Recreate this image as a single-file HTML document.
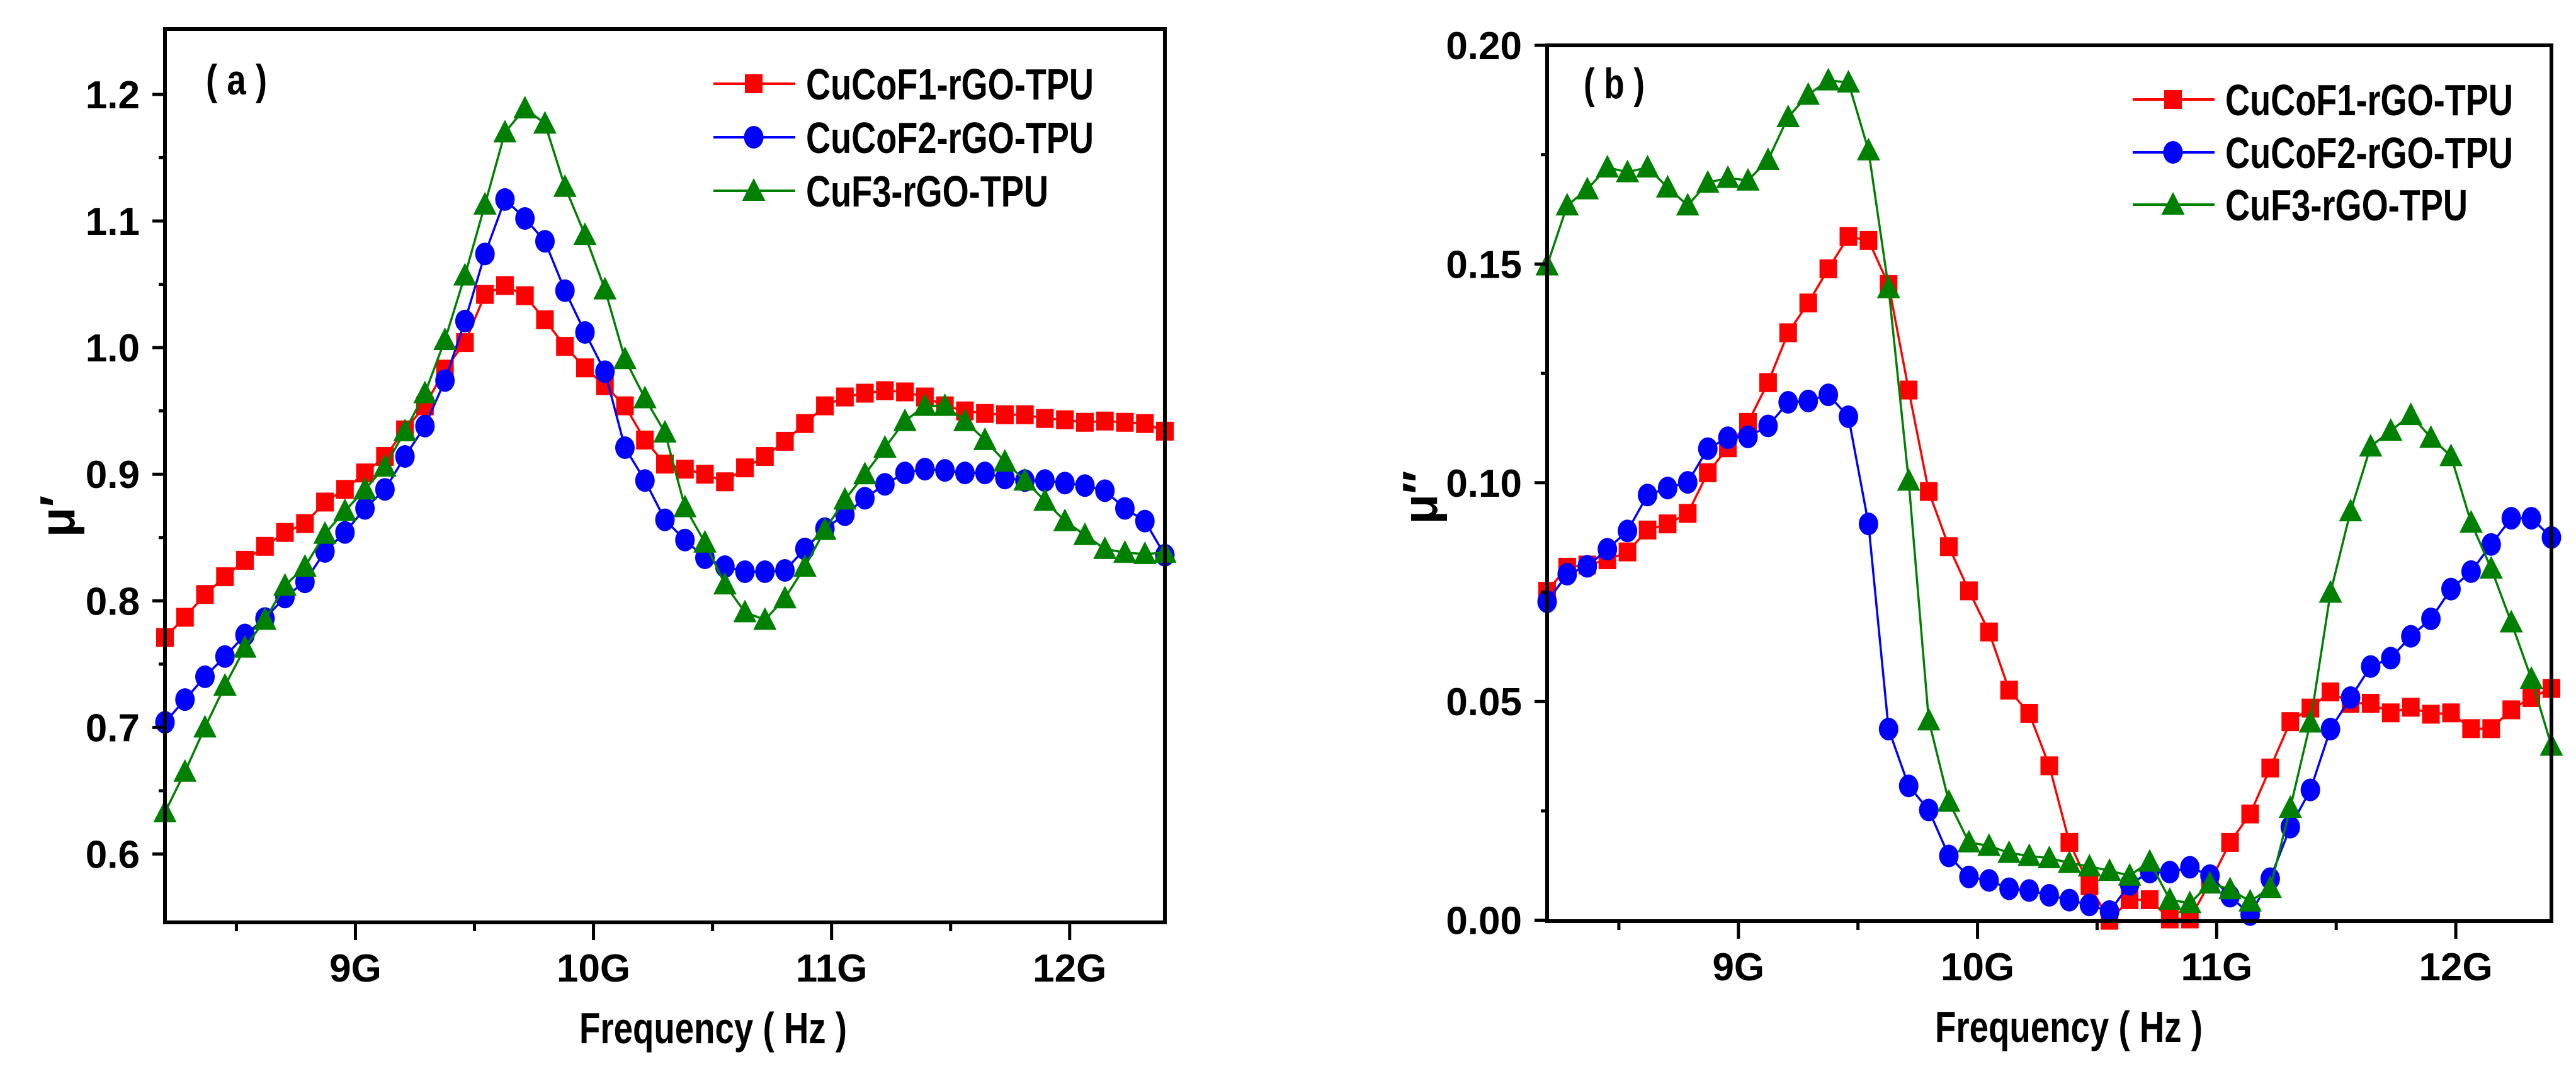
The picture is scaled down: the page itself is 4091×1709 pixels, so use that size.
<!DOCTYPE html>
<html><head><meta charset="utf-8"><style>
html,body{margin:0;padding:0;background:#fff;}
svg{display:block;}
text{font-family:"Liberation Sans Narrow","Liberation Sans",sans-serif;font-weight:bold;fill:#000;}
</style></head><body>
<svg id="chart" width="4091" height="1709" viewBox="0 0 4091 1709" xmlns="http://www.w3.org/2000/svg"></svg>
<script>
const freqStart = 8.2, freqStep = 0.084, pointCount = 51;
const xTicks = [9, 10, 11, 12];
const xTickLabels = ["9G", "10G", "11G", "12G"];
const seriesNames = ["CuCoF1-rGO-TPU", "CuCoF2-rGO-TPU", "CuF3-rGO-TPU"];
const yTicksA = [0.6, 0.7, 0.8, 0.9, 1.0, 1.1, 1.2];
const yTickLabelsA = ["0.6", "0.7", "0.8", "0.9", "1.0", "1.1", "1.2"];
const yTicksB = [0.0, 0.05, 0.10, 0.15, 0.20];
const yTickLabelsB = ["0.00", "0.05", "0.10", "0.15", "0.20"];
const aRed = [.771,.787,.805,.819,.832,.843,.854,.861,.878,.888,.901,.914,.935,.954,.983,1.004,1.042,1.049,1.041,1.022,1.001,.984,.970,.954,.927,.908,.904,.900,.894,.905,.914,.926,.940,.954,.961,.964,.966,.965,.961,.954,.950,.948,.947,.947,.944,.943,.941,.942,.941,.940,.934];
const aBlue = [.704,.722,.740,.756,.773,.786,.803,.815,.839,.854,.873,.888,.914,.938,.974,1.021,1.074,1.117,1.102,1.084,1.045,1.012,.981,.921,.895,.864,.848,.834,.827,.823,.823,.824,.841,.857,.868,.881,.892,.901,.904,.903,.901,.901,.897,.895,.895,.893,.891,.887,.873,.863,.836];
const aGreen = [.633,.665,.700,.733,.763,.785,.812,.827,.853,.871,.888,.906,.934,.964,1.006,1.057,1.113,1.170,1.189,1.177,1.127,1.089,1.046,.991,.960,.933,.874,.846,.813,.791,.785,.802,.827,.856,.880,.900,.921,.942,.954,.954,.942,.927,.910,.895,.879,.863,.852,.841,.838,.837,.838];
const bRed = [.0752,.0807,.0812,.0824,.0842,.0892,.0906,.0930,.1023,.1080,.1138,.1229,.1343,.1411,.1489,.1563,.1554,.1453,.1212,.0980,.0854,.0753,.0659,.0526,.0473,.0353,.0178,.0079,.0000,.0047,.0047,.0003,.0003,.0087,.0178,.0243,.0348,.0454,.0485,.0522,.0496,.0496,.0474,.0487,.0471,.0474,.0438,.0438,.0481,.0509,.0530];
const bBlue = [.0728,.0791,.0809,.0848,.0890,.0972,.0988,.1001,.1078,.1103,.1105,.1130,.1184,.1187,.1201,.1151,.0906,.0437,.0307,.0252,.0147,.0099,.0091,.0072,.0068,.0057,.0046,.0035,.0020,.0082,.0110,.0110,.0121,.0102,.0055,.0013,.0095,.0213,.0298,.0437,.0509,.0580,.0599,.0649,.0689,.0757,.0797,.0859,.0919,.0919,.0875];
const bGreen = [.1497,.1634,.1671,.1721,.1710,.1721,.1675,.1634,.1686,.1697,.1691,.1738,.1836,.1887,.1920,.1915,.1760,.1445,.1005,.0457,.0271,.0178,.0170,.0154,.0147,.0142,.0131,.0123,.0113,.0102,.0134,.0047,.0039,.0084,.0071,.0043,.0074,.0257,.0452,.0749,.0935,.1083,.1119,.1155,.1103,.1061,.0909,.0804,.0681,.0552,.0399];

const NS = "http://www.w3.org/2000/svg";
const svg = document.getElementById("chart");
const colors = ["#ff0000", "#0000ff", "#008000"];
const shapes = ["square", "circle", "triangle"];
function mk(tag, attrs, parent) {
  const e = document.createElementNS(NS, tag);
  for (const k in attrs) e.setAttribute(k, attrs[k]);
  (parent || svg).appendChild(e);
  return e;
}
function marker(g, shape, cx, cy, color) {
  let m;
  if (shape === "square") m = mk("rect", {x: cx - 14, y: cy - 15, width: 28, height: 30, fill: color}, g);
  else if (shape === "circle") m = mk("ellipse", {cx: cx, cy: cy, rx: 15.5, ry: 18, fill: color}, g);
  else m = mk("polygon", {points: `${cx},${cy - 20} ${cx - 18.5},${cy + 16} ${cx + 18.5},${cy + 16}`, fill: color}, g);
  return m;
}
function panel(p) {
  const g = mk("g", {});
  
  
  const X = f => p.x0 + (f - 8.2) / 4.2 * (p.x1 - p.x0);
  const Y = v => p.yb - (v - p.ymin) / (p.ymax - p.ymin) * (p.yb - p.yt);
  // series
  p.series.forEach((vals, si) => {
    const sg = mk("g", {}, g);
    
    
    const pts = vals.map((v, i) => X(freqStart + i * freqStep).toFixed(1) + "," + Y(v).toFixed(1)).join(" ");
    const line = mk("polyline", {points: pts, fill: "none", stroke: colors[si], "stroke-width": 3.5}, sg);
    
    
    vals.forEach((v, i) => {
      const m = marker(sg, shapes[si], X(freqStart + i * freqStep), Y(v), colors[si]);
      
      
    });
  });
  // frame
  const fr = mk("rect", {x: p.x0, y: p.yt, width: p.x1 - p.x0, height: p.yb - p.yt, fill: "none", stroke: "#000", "stroke-width": 6}, g);
  
  
  // x ticks
  for (let f = 8.5; f <= 12.4; f += 0.5) {
    const major = Math.abs(f - Math.round(f)) < 1e-6;
    const t = mk("line", {x1: X(f), x2: X(f), y1: p.yb, y2: p.yb + (major ? 28 : 14), stroke: "#000", "stroke-width": 5}, g);
    
    
  }
  xTicks.forEach((f, i) => {
    const t = mk("text", {x: X(f), y: p.yb + 94, "text-anchor": "middle", "font-size": 62}, g);
    t.textContent = xTickLabels[i];
    
    
  });
  // y ticks
  p.yTicks.forEach((v, i) => {
    const t = mk("line", {x1: p.x0 - 20, x2: p.x0, y1: Y(v), y2: Y(v), stroke: "#000", "stroke-width": 5}, g);
    
    
    const l = mk("text", {x: p.x0 - 40, y: Y(v) + 22, "text-anchor": "end", "font-size": 62}, g);
    l.textContent = p.yTickLabels[i];
    
    
    if (i < p.yTicks.length - 1) {
      const mv = (v + p.yTicks[i + 1]) / 2;
      const mt = mk("line", {x1: p.x0 - 10, x2: p.x0, y1: Y(mv), y2: Y(mv), stroke: "#000", "stroke-width": 5}, g);
      
      
    }
  });
  // titles
  const xt = mk("text", {x: p.xtx, y: p.yb + 192, "font-size": 70, textLength: 425, lengthAdjust: "spacingAndGlyphs"}, g);
  xt.textContent = "Frequency ( Hz )";
  
  
  const yt = mk("text", {x: 0, y: 0, "font-size": 78, "text-anchor": "middle", transform: `translate(${p.ytx},${p.yty}) rotate(-90)`}, g);
  yt.textContent = p.ytitle;
  
  
  const pl = mk("text", {x: p.plx, y: p.ply, "font-size": 68, textLength: 97, lengthAdjust: "spacingAndGlyphs"}, g);
  pl.textContent = p.label;
  
  
  // legend
  const lg = mk("g", {}, g);
  
  
  seriesNames.forEach((n, si) => {
    const by = p.legY[si];
    const cy = by - 25;
    const e = mk("g", {}, lg);
    
    
    mk("line", {x1: p.legX, x2: p.legX + 130, y1: cy, y2: cy, stroke: colors[si], "stroke-width": 4}, e);
    marker(e, shapes[si], p.legX + 64, cy, colors[si]);
    const t = mk("text", {x: p.legX + 147, y: by, "font-size": 70, textLength: si === 2 ? 385 : 457, lengthAdjust: "spacingAndGlyphs"}, e);
    t.textContent = n;
  });
}
panel({name: "panel-a-real-permeability", x0: 262, x1: 1850, yt: 46, yb: 1465, ymin: 0.546, ymax: 1.2517,
  series: [aRed, aBlue, aGreen], yTicks: yTicksA, yTickLabels: yTickLabelsA,
  xtx: 920, ytx: 118, yty: 820, ytitle: "μ′", plx: 327, ply: 150, label: "( a )",
  legX: 1133, legY: [158, 243, 328]});
panel({name: "panel-b-imaginary-permeability", x0: 2457, x1: 4052, yt: 72, yb: 1463, ymin: -0.0002, ymax: 0.2,
  series: [bRed, bBlue, bGreen], yTicks: yTicksB, yTickLabelsB: 0, yTickLabels: yTickLabelsB,
  xtx: 3073, ytx: 2282, yty: 790, ytitle: "μ″", plx: 2515, ply: 156, label: "( b )",
  legX: 3387, legY: [183, 267, 350]});
</script>
</body></html>
